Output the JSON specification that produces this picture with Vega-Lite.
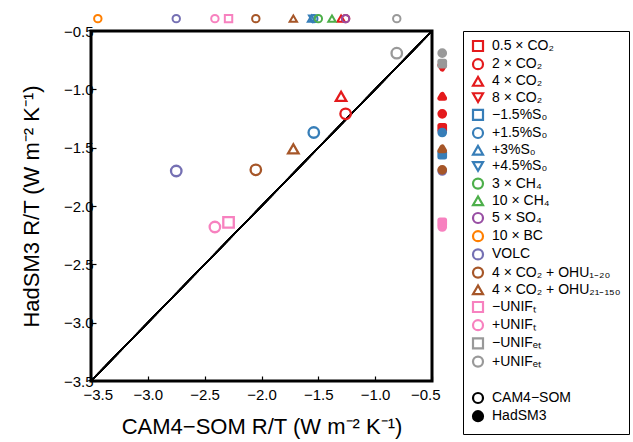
{
  "$schema": "https://vega.github.io/schema/vega-lite/v6.json",
  "width": 341,
  "height": 350,
  "autosize": "none",
  "padding": {"left": 91, "top": 31, "right": 201, "bottom": 61},
  "data": {
    "values": [
      {"exp": "0.5 × CO₂", "cam": null, "had": -1.33},
      {"exp": "2 × CO₂", "cam": -1.26, "had": -1.21},
      {"exp": "4 × CO₂", "cam": -1.30, "had": -1.06},
      {"exp": "8 × CO₂", "cam": null, "had": -0.81},
      {"exp": "−1.5%S₀", "cam": null, "had": -1.56},
      {"exp": "+1.5%S₀", "cam": -1.54, "had": -1.37},
      {"exp": "+3%S₀", "cam": -1.56, "had": null},
      {"exp": "+4.5%S₀", "cam": -1.55, "had": null},
      {"exp": "3 × CH₄", "cam": -1.50, "had": null},
      {"exp": "10 × CH₄", "cam": -1.38, "had": null},
      {"exp": "5 × SO₄", "cam": -1.26, "had": null},
      {"exp": "10 × BC", "cam": -3.44, "had": null},
      {"exp": "VOLC", "cam": -2.75, "had": -1.70},
      {"exp": "4 × CO₂ + OHU₁₋₂₀", "cam": -2.05, "had": -1.69},
      {"exp": "4 × CO₂ + OHU₂₁₋₁₅₀", "cam": -1.72, "had": -1.51},
      {"exp": "−UNIFₜ", "cam": -2.29, "had": -2.14},
      {"exp": "+UNIFₜ", "cam": -2.41, "had": -2.18},
      {"exp": "−UNIFₑₜ", "cam": null, "had": -0.78},
      {"exp": "+UNIFₑₜ", "cam": -0.81, "had": -0.69}
    ]
  },
  "encoding": {
    "color": {
      "field": "exp",
      "type": "nominal",
      "scale": {
        "domain": ["0.5 × CO₂", "2 × CO₂", "4 × CO₂", "8 × CO₂", "−1.5%S₀", "+1.5%S₀", "+3%S₀", "+4.5%S₀", "3 × CH₄", "10 × CH₄", "5 × SO₄", "10 × BC", "VOLC", "4 × CO₂ + OHU₁₋₂₀", "4 × CO₂ + OHU₂₁₋₁₅₀", "−UNIFₜ", "+UNIFₜ", "−UNIFₑₜ", "+UNIFₑₜ", " ", "CAM4−SOM", "HadSM3"],
        "range": ["#e41a1c", "#e41a1c", "#e41a1c", "#e41a1c", "#377eb8", "#377eb8", "#377eb8", "#377eb8", "#4daf4a", "#4daf4a", "#984ea3", "#ff7f00", "#7570b3", "#a65628", "#a65628", "#f781bf", "#f781bf", "#999999", "#999999", "white", "black", "black"]
      },
      "legend": {
        "title": null,
        "orient": "none",
        "legendX": 372,
        "legendY": 0,
        "padding": 8,
        "fillColor": "white",
        "strokeColor": "black",
        "symbolSize": 100,
        "symbolStrokeWidth": 2.2,
        "labelFont": "Liberation Sans",
        "labelFontSize": 14,
        "labelOffset": 7,
        "rowPadding": -1.8
      }
    },
    "shape": {
      "field": "exp",
      "type": "nominal",
      "scale": {
        "domain": ["0.5 × CO₂", "2 × CO₂", "4 × CO₂", "8 × CO₂", "−1.5%S₀", "+1.5%S₀", "+3%S₀", "+4.5%S₀", "3 × CH₄", "10 × CH₄", "5 × SO₄", "10 × BC", "VOLC", "4 × CO₂ + OHU₁₋₂₀", "4 × CO₂ + OHU₂₁₋₁₅₀", "−UNIFₜ", "+UNIFₜ", "−UNIFₑₜ", "+UNIFₑₜ", " ", "CAM4−SOM", "HadSM3"],
        "range": ["square", "circle", "triangle-up", "triangle-down", "square", "circle", "triangle-up", "triangle-down", "circle", "triangle-up", "circle", "circle", "circle", "circle", "triangle-up", "square", "circle", "square", "circle", "circle", "circle", "M1,0A1,1 0 1,1 -1,0A1,1 0 1,1 1,0M0.6,0A0.6,0.6 0 1,1 -0.6,0A0.6,0.6 0 1,1 0.6,0M0.2,0A0.2,0.2 0 1,1 -0.2,0A0.2,0.2 0 1,1 0.2,0"]
      },
      "legend": {"title": null}
    }
  },
  "layer": [
    {
      "mark": {"type": "rule", "color": "black", "strokeWidth": 1.3},
      "encoding": {
        "x": {"datum": -3.5, "type": "quantitative"},
        "y": {"datum": -3.5, "type": "quantitative"},
        "x2": {"datum": -0.5},
        "y2": {"datum": -0.5},
        "color": null,
        "shape": null
      }
    },
    {
      "transform": [{"filter": "isValid(datum.cam) && isValid(datum.had)"}],
      "mark": {"type": "point", "filled": false, "size": 110, "strokeWidth": 2.3, "opacity": 1},
      "encoding": {
        "x": {
          "field": "cam",
          "type": "quantitative",
          "scale": {"domain": [-3.5, -0.5], "nice": false, "zero": false},
          "axis": {
            "title": "CAM4−SOM R/T (W m⁻² K⁻¹)",
            "values": [-3.5, -3, -2.5, -2, -1.5, -1, -0.5],
            "format": ".1f",
            "grid": false,
            "domain": false,
            "tickSize": -5,
            "tickColor": "black",
            "tickWidth": 1.2,
            "labelPadding": 11,
            "labelFont": "Liberation Sans",
            "labelFontSize": 15,
            "labelColor": "black",
            "labelFlush": true,
            "labelFlushOffset": 8,
            "titleFont": "Liberation Sans",
            "titleFontSize": 22,
            "titleFontWeight": "normal",
            "titleColor": "black",
            "titlePadding": 14
          }
        },
        "y": {
          "field": "had",
          "type": "quantitative",
          "scale": {"domain": [-3.5, -0.5], "nice": false, "zero": false},
          "axis": {
            "title": "HadSM3 R/T (W m⁻² K⁻¹)",
            "values": [-3.5, -3, -2.5, -2, -1.5, -1, -0.5],
            "format": ".1f",
            "grid": false,
            "domain": false,
            "tickSize": -5,
            "tickColor": "black",
            "tickWidth": 1.2,
            "labelPadding": 3,
            "labelFont": "Liberation Sans",
            "labelFontSize": 15,
            "labelColor": "black",
            "labelFlush": false,
            "titleFont": "Liberation Sans",
            "titleFontSize": 22,
            "titleFontWeight": "normal",
            "titleColor": "black",
            "titlePadding": 20
          }
        }
      }
    },
    {
      "transform": [{"filter": "isValid(datum.cam)"}],
      "mark": {"type": "point", "filled": false, "size": 55, "strokeWidth": 2, "opacity": 1},
      "encoding": {
        "x": {"field": "cam", "type": "quantitative"},
        "y": {"datum": -0.394, "type": "quantitative"}
      }
    },
    {
      "transform": [{"filter": "isValid(datum.had)"}],
      "mark": {"type": "point", "filled": false, "size": 22, "strokeWidth": 5, "strokeJoin": "round", "opacity": 1},
      "encoding": {
        "x": {"datum": -0.41, "type": "quantitative"},
        "y": {"field": "had", "type": "quantitative"}
      }
    }
  ],
  "config": {
    "view": {"stroke": "black", "strokeWidth": 3}
  }
}
